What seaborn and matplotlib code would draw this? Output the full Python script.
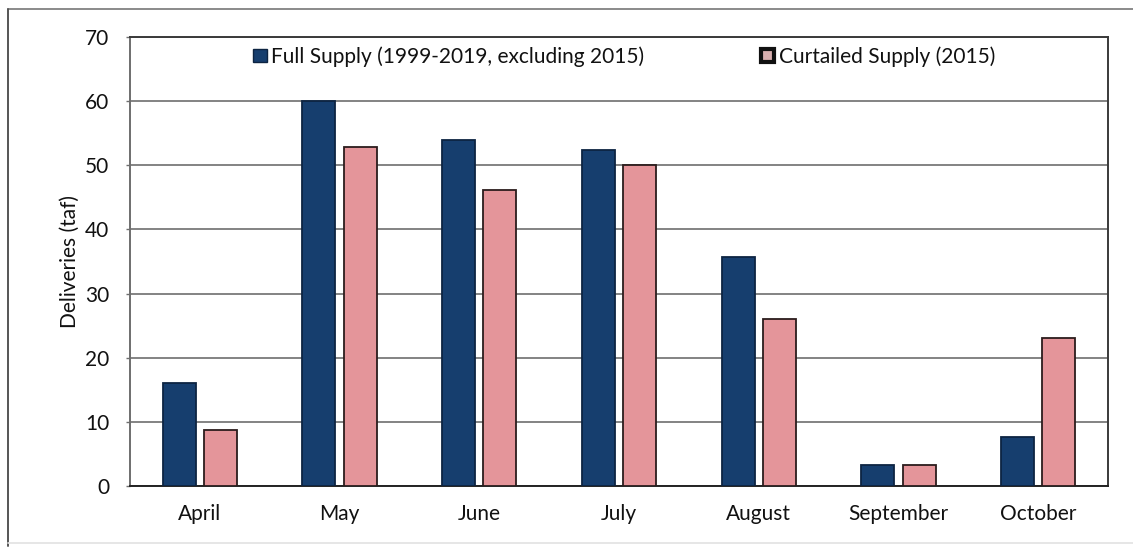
import matplotlib
matplotlib.use("Agg")
import matplotlib.pyplot as plt
from matplotlib.lines import Line2D
from matplotlib.patches import Patch
import seaborn as sns
import pandas as pd

months = ["April", "May", "June", "July", "August", "September", "October"]
full_supply = [16.0, 60.0, 54.0, 52.4, 35.7, 3.3, 7.6]
curtailed_supply = [8.8, 52.8, 46.2, 50.0, 26.0, 3.3, 23.0]
series_names = ["Full Supply (1999-2019, excluding 2015)", "Curtailed Supply (2015)"]
y_ticks = [0, 10, 20, 30, 40, 50, 60, 70]

df = pd.DataFrame({
    "Month": months * 2,
    "Deliveries": full_supply + curtailed_supply,
    "Series": [series_names[0]] * len(months) + [series_names[1]] * len(months),
})

sns.set_theme(style="white")
plt.rcParams["font.family"] = ["Lato", "DejaVu Sans"]

fill_colors = {series_names[0]: "#163e6e", series_names[1]: "#e4959a"}
edge_colors = {series_names[0]: "#0d2442", series_names[1]: "#2b1c1c"}
FS = 15

fig = plt.figure(figsize=(11.33, 5.49), dpi=100)
ax = fig.add_axes([0.1147, 0.1148, 0.8633, 0.8178])

sns.barplot(data=df, x="Month", y="Deliveries", hue="Series", order=months,
            hue_order=series_names, palette=fill_colors, saturation=1,
            width=0.59, gap=0.2, legend=False, ax=ax, zorder=3)

# outline each bar with its series edge colour
n = len(months)
for i, bar in enumerate(ax.patches[:2 * n]):
    bar.set_edgecolor(edge_colors[series_names[i // n]])
    bar.set_linewidth(1.3)

ax.set_ylim(0, 70)
ax.set_xlim(-0.5, len(months) - 0.5)
ax.set_yticks(y_ticks)
ax.yaxis.grid(True, color="#6e6e6e", linewidth=1.2, zorder=0)
ax.set_axisbelow(True)
ax.set_xlabel("")
ax.set_ylabel("Deliveries (taf)", fontsize=FS, color="#111111")
ax.yaxis.set_label_coords(-0.051, 0.5)

ax.tick_params(axis="x", length=0, pad=13, labelsize=FS, labelcolor="#111111")
ax.tick_params(axis="y", length=3, width=1, color="#6e6e6e", pad=12,
               labelsize=FS, labelcolor="#111111", left=True)

for side in ["top", "right"]:
    ax.spines[side].set_color("#3a3a3a")
    ax.spines[side].set_linewidth(1.4)
ax.spines["left"].set_color("#6e6e6e")
ax.spines["left"].set_linewidth(1.4)
ax.spines["bottom"].set_color("#222222")
ax.spines["bottom"].set_linewidth(1.4)

# legend entries placed side by side inside the top band
handles = [
    Patch(facecolor=fill_colors[series_names[0]], edgecolor=edge_colors[series_names[0]], linewidth=1),
    Patch(facecolor="#d9b0b0", edgecolor="#111111", linewidth=3),
]
anchors = [(0.2233, 0.897), (0.6716, 0.897)]
for h, name, anc in zip(handles, series_names, anchors):
    leg = fig.legend([h], [name], loc="center left", bbox_to_anchor=anc,
                     frameon=False, fontsize=FS, borderpad=0, borderaxespad=0,
                     handlelength=0.65, handleheight=0.65, handletextpad=0.2)
    for t in leg.get_texts():
        t.set_color("#111111")

# outer chart frame
fig.add_artist(Line2D([0.00706, 1.0], [0.9836, 0.9836], transform=fig.transFigure,
                      color="#8a8a8a", linewidth=1.4))
fig.add_artist(Line2D([0.00706, 0.00706], [0.005, 0.9836], transform=fig.transFigure,
                      color="#555555", linewidth=1.4))
fig.add_artist(Line2D([0.00706, 1.0], [0.011, 0.011], transform=fig.transFigure,
                      color="#e2e2e2", linewidth=1.2))

fig.savefig("out.png", dpi=100)
